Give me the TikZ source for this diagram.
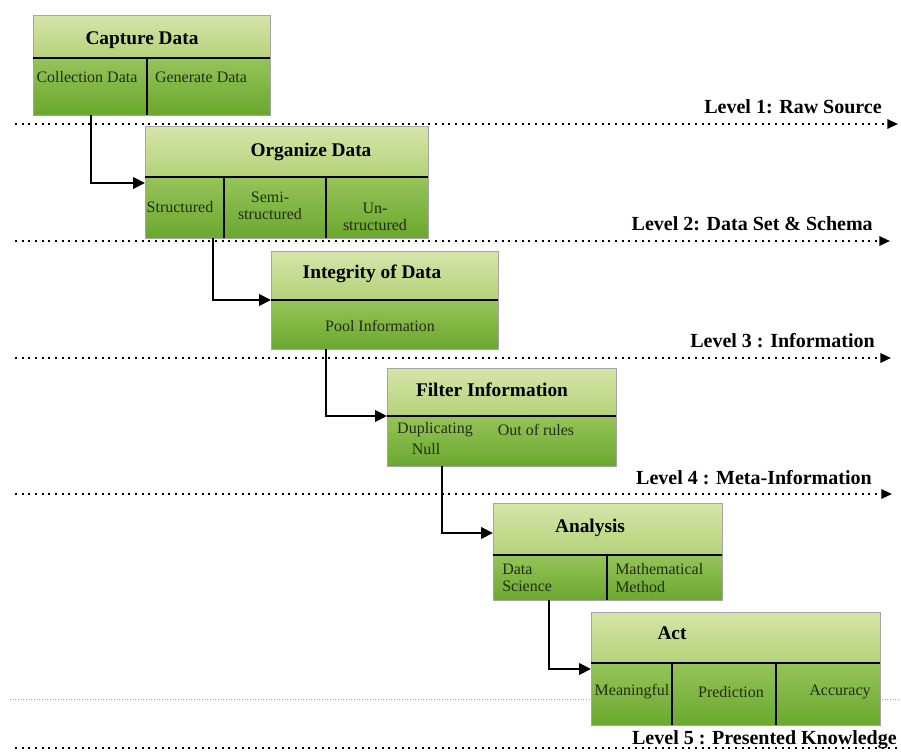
\documentclass[tikz,border=0pt]{standalone}
\usepackage{fontspec}
\setmainfont{Liberation Serif}
\usetikzlibrary{arrows.meta,calc}
\definecolor{hdrtop}{RGB}{214,229,170}
\definecolor{hdrbot}{RGB}{180,210,120}
\definecolor{bdytop}{RGB}{150,196,90}
\definecolor{bdybot}{RGB}{106,168,46}
\definecolor{framegray}{RGB}{165,165,165}
\definecolor{subtext}{RGB}{35,45,20}
\definecolor{faint}{RGB}{175,175,175}
\tikzset{
  hdr/.style={rectangle, inner sep=0pt, outer sep=0pt, top color=hdrtop, bottom color=hdrbot},
  bdy/.style={rectangle, inner sep=0pt, outer sep=0pt, top color=bdytop, bottom color=bdybot},
  frame/.style={draw=framegray, line width=0.6pt},
  divider/.style={draw=black, line width=1.6pt},
  vdiv/.style={draw=black, line width=1.3pt},
  title/.style={font=\bfseries\fontsize{14.5}{16}\selectfont, inner sep=0pt},
  sub/.style={font=\fontsize{12}{13}\selectfont, text=subtext, inner sep=0pt},
  lvltext/.style={font=\bfseries\fontsize{15}{17}\selectfont, inner sep=0pt, anchor=east},
  lvl/.style={line width=1.6pt, dash pattern=on 1.6pt off 3.4pt, -{Triangle[length=8pt,width=7pt]}},
  conn/.style={line width=2.2pt, -{Triangle[length=9pt,width=8.5pt]}},
}
\newcommand{\gbox}[6]{%
  \node[hdr, anchor=north west, minimum width={(#4-#2)*0.75pt}, minimum height={(#5-#3)*0.75pt}] (#1h) at (#2,#3) {};
  \node[bdy, anchor=north west, minimum width={(#4-#2)*0.75pt}, minimum height={(#6-#5)*0.75pt}] (#1b) at (#2,#5) {};
  \draw[frame] (#1h.north west) rectangle (#1b.south east);
  \draw[divider] (#1h.south west) -- (#1h.south east);
}
\begin{document}
\begin{tikzpicture}[x=0.75pt,y=-0.75pt]
\useasboundingbox[fill=white] (0,0) rectangle (901,753);

% level lines
\coordinate (l1s) at (15,124); \coordinate (l1e) at (898,124);
\coordinate (l2s) at (15,241); \coordinate (l2e) at (890,241);
\coordinate (l3s) at (15,358); \coordinate (l3e) at (891,358);
\coordinate (l4s) at (15,494); \coordinate (l4e) at (892,494);
\coordinate (l5s) at (15,748); \coordinate (l5e) at (901,748);
\coordinate (gs) at (10,699);  \coordinate (ge) at (901,699);
\draw[lvl] (l1s) -- (l1e);
\draw[lvl] (l2s) -- (l2e);
\draw[lvl] (l3s) -- (l3e);
\draw[lvl] (l4s) -- (l4e);
\draw[line width=1.6pt, dash pattern=on 1.6pt off 3.4pt] (l5s) -- (l5e);
\draw[faint, line width=0.6pt, dash pattern=on 0.8pt off 1.2pt] (gs) -- (ge);

\node[lvltext] (lv1) at (882,107) {Level 1: Raw Source};
\node[lvltext] (lv2) at (873,224) {Level 2: Data Set \& Schema};
\node[lvltext] (lv3) at (875,341) {Level 3 : Information};
\node[lvltext] (lv4) at (872,478) {Level 4 : Meta-Information};
\node[lvltext] (lv5) at (897,740) {Level 5 : Presented Knowledge};

% boxes
\gbox{cap}{33}{15}{270}{58}{115}
\draw[vdiv] (147,58) -- (147,115);
\node[title] (capT) at (142,40) {Capture Data};
\node[sub] (capS1) at (87,77) {Collection Data};
\node[sub] (capS2) at (201,77) {Generate Data};

\gbox{org}{145}{126}{428}{177}{238}
\draw[vdiv] (224,177) -- (224,238);
\draw[vdiv] (326,177) -- (326,238);
\node[title] (orgT) at (311,152) {Organize Data};
\node[sub] (orgS1) at (180,207) {Structured};
\node[sub, align=center] (orgS2) at (270,206) {Semi-\\structured};
\node[sub, align=center] (orgS3) at (375,217) {Un-\\structured};

\gbox{int}{271}{251}{498}{300}{349}
\node[title] (intT) at (372,274) {Integrity of Data};
\node[sub] (intS1) at (380,326) {Pool Information};

\gbox{fil}{387}{368}{616}{416}{466}
\node[title] (filT) at (492,390) {Filter Information};
\node[sub] (filS1) at (435,430) {Duplicating};
\node[sub] (filS2) at (536,430) {Out of rules};
\node[sub] (filS3) at (426,449) {Null};

\gbox{ana}{493}{503}{722}{555}{600}
\draw[vdiv] (607,555) -- (607,600);
\node[title] (anaT) at (590,528) {Analysis};
\node[sub, align=left, anchor=west] (anaS1) at (502,578) {Data\\Science};
\node[sub, align=left, anchor=west] (anaS2) at (615,578) {Mathematical\\Method};

\gbox{act}{591}{612}{880}{663}{725}
\draw[vdiv] (672,663) -- (672,725);
\draw[vdiv] (776,663) -- (776,725);
\node[title] (actT) at (672,633) {Act};
\node[sub] (actS1) at (632,692) {Meaningful};
\node[sub] (actS2) at (731,692) {Prediction};
\node[sub] (actS3) at (840,692) {Accuracy};

% connectors
\draw[conn] ($(capb.south west)+(58,0)$) |- ($(orgh.south west)+(0,6)$);
\draw[conn] ($(orgb.south west)+(68,0)$) |- (inth.south west);
\draw[conn] ($(intb.south west)+(55,0)$) |- (filh.south west);
\draw[conn] ($(filb.south west)+(55,0)$) |- ($(anah.south west)+(0,-22)$);
\draw[conn] ($(anab.south west)+(56,0)$) |- ($(acth.south west)+(0,6)$);
\end{tikzpicture}
\end{document}
